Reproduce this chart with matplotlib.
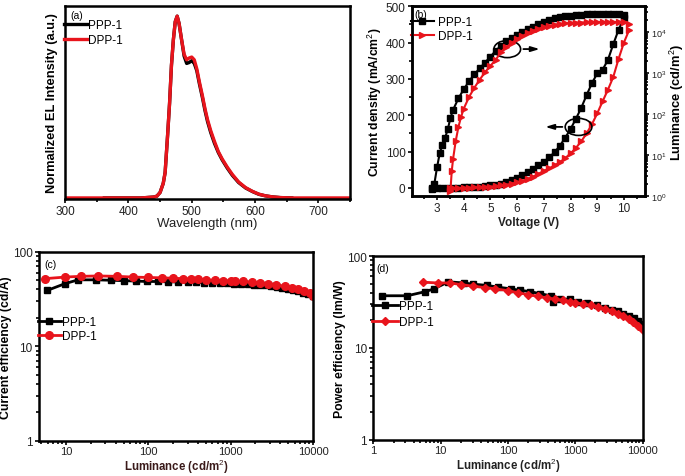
import matplotlib
matplotlib.use("Agg")
import matplotlib.pyplot as plt
from matplotlib.patches import Ellipse
from matplotlib.ticker import LogLocator, NullFormatter, MultipleLocator, FixedLocator

plt.rcParams['font.family'] = ['Liberation Sans', 'DejaVu Sans']
plt.rcParams['mathtext.fontset'] = 'custom'
plt.rcParams['mathtext.rm'] = 'Liberation Sans'
plt.rcParams['mathtext.bf'] = 'Liberation Sans:bold'

BLACK = '#000000'
RED = '#e8141c'

# ---------------- (a) EL spectra ----------------
wl_ppp = [362, 420, 440, 445, 450, 455, 458, 462, 465, 468, 471, 474, 477, 480, 484, 488, 492, 496,
          500, 504, 508, 512, 517, 521, 525, 530, 536, 542, 548, 556, 564, 574, 585, 596, 606, 616,
          627, 640, 658]
el_ppp = [0, 0, 0.005, 0.01, 0.03, 0.08, 0.14, 0.35, 0.52, 0.73, 0.87, 0.97, 1.0, 0.96, 0.87, 0.78,
          0.74, 0.745, 0.755, 0.74, 0.70, 0.63, 0.55, 0.48, 0.42, 0.36, 0.30, 0.25, 0.21, 0.165, 0.125,
          0.085, 0.055, 0.035, 0.02, 0.012, 0.006, 0.002, 0]
wl_dpp = [300, 360, 420, 440, 445, 450, 455, 458, 462, 465, 468, 471, 474, 477, 480, 484, 488, 492,
          496, 500, 504, 508, 512, 517, 521, 525, 530, 536, 542, 548, 556, 564, 574, 585, 596, 606,
          616, 627, 640, 660, 750]
el_dpp = [0, 0, 0, 0.005, 0.01, 0.03, 0.08, 0.14, 0.35, 0.52, 0.73, 0.87, 0.97, 1.0, 0.96, 0.87,
          0.79, 0.76, 0.77, 0.775, 0.76, 0.71, 0.64, 0.56, 0.49, 0.43, 0.37, 0.31, 0.255, 0.215, 0.17,
          0.13, 0.088, 0.057, 0.036, 0.021, 0.012, 0.006, 0.002, 0, 0]

# ---------------- (b) J-V-L ----------------
v_j_ppp = [2.8, 3.0, 3.2, 3.4, 3.6, 3.8, 4.0, 4.2, 4.4, 4.6, 4.8, 5.0, 5.2, 5.4, 5.6, 5.8, 6.0, 6.2,
           6.4, 6.6, 6.8, 7.0, 7.2, 7.4, 7.6, 7.8, 8.0, 8.2, 8.4, 8.6, 8.8, 9.0, 9.2, 9.4, 9.6, 9.8, 10.0]
j_ppp = [0, 0, 0, 0, 0.5, 1, 1.5, 2, 3, 4, 5, 7, 9, 12, 16, 21, 27, 35, 44, 53, 62, 72, 84, 98, 116,
         138, 162, 190, 220, 255, 288, 315, 325, 352, 395, 435, 468]
v_j_dpp = [3.5, 3.6, 3.8, 4.0, 4.2, 4.4, 4.6, 4.8, 5.0, 5.2, 5.4, 5.6, 5.8, 6.0, 6.2, 6.4, 6.6, 6.8,
           7.0, 7.2, 7.4, 7.6, 7.8, 8.0, 8.2, 8.4, 8.6, 8.8, 9.0, 9.2, 9.4, 9.6, 9.8, 10.0, 10.2]
j_dpp = [0, 0, 0, 0.5, 1, 1.5, 2, 3, 4, 5, 7, 9, 12, 16, 20, 25, 31, 39, 47, 54, 62, 71, 82, 95, 110,
         128, 150, 175, 205, 238, 270, 305, 355, 400, 435]
v_l_ppp = [2.8, 2.9, 3.0, 3.1, 3.2, 3.3, 3.4, 3.5, 3.6, 3.8, 4.0, 4.2, 4.4, 4.6, 4.8, 5.0, 5.2, 5.4,
           5.6, 5.8, 6.0, 6.2, 6.4, 6.6, 6.8, 7.0, 7.2, 7.4, 7.6, 7.8, 8.0, 8.2, 8.4, 8.6, 8.8, 9.0,
           9.2, 9.4, 9.6, 9.8, 10.0]
l_ppp = [1.5, 2.0, 5, 11, 18, 26, 42, 79, 126, 240, 400, 630, 930, 1300, 1800, 2500, 3500, 4600, 5900,
         7100, 8500, 10000, 11700, 13500, 15500, 17400, 19500, 21400, 23400, 24500, 25100, 25700,
         26300, 26900, 27500, 27500, 27500, 27500, 26900, 26900, 26300]
v_l_dpp = [3.5, 3.55, 3.6, 3.7, 3.8, 3.9, 4.0, 4.2, 4.4, 4.6, 4.8, 5.0, 5.2, 5.4, 5.6, 5.8, 6.0, 6.2,
           6.4, 6.6, 6.8, 7.0, 7.2, 7.4, 7.6, 7.8, 8.0, 8.2, 8.4, 8.6, 8.8, 9.0, 9.2, 9.4, 9.6, 9.8,
           10.0, 10.2]
l_dpp = [1.3, 4, 8, 22, 48, 85, 135, 260, 440, 690, 1050, 1500, 2100, 3300, 4300, 5400, 6800, 8000,
         9300, 10700, 12000, 13200, 14100, 15100, 15800, 16200, 16600, 17000, 17000, 17400, 17400,
         17400, 17400, 17400, 17400, 17400, 17400, 15800]

# ---------------- (c) current efficiency ----------------
lc_ppp = [5.9, 9.7, 14, 23, 35, 50, 70, 95, 130, 175, 230, 300, 380, 480, 600, 740, 900, 1100, 1330,
          1600, 1900, 2250, 2650, 3100, 3600, 4200, 4900, 5700, 6600, 7600, 8700, 10000]
ce_ppp = [39, 46, 50.5, 50.5, 50, 49.5, 49, 48.5, 48.5, 48, 48, 47.5, 47.5, 47, 47, 46.5, 46.5, 46,
          45.5, 45.5, 45, 44.5, 44, 43, 42, 41, 40, 39, 38, 37, 35.5, 34]
lc_dpp = [5.6, 9.7, 15, 24.5, 42, 65, 100, 148, 200, 260, 330, 400, 500, 640, 800, 1000, 1120, 1400,
          1820, 2300, 2830, 3500, 4550, 5500, 6600, 7800, 9100, 10000]
ce_dpp = [52, 54, 55, 55.5, 55, 54, 53.5, 53, 52.5, 52, 51.5, 51, 50.5, 50, 49.5, 49, 49, 48.5, 47.5,
          46.5, 45.5, 44.5, 43, 41.5, 40, 38.5, 36.5, 34]

# ---------------- (d) power efficiency ----------------
lp_ppp = [1.35, 3.2, 5.9, 8, 13, 22, 30, 49, 70, 110, 150, 215, 300, 430, 470, 600, 850, 1100, 1500,
          2140, 2800, 3500, 4250, 5200, 6300, 7450, 8700, 10000]
pe_ppp = [37, 37, 41, 44, 52.5, 51, 49.5, 48, 46, 44, 42.5, 41, 39, 37, 32, 34, 34, 32, 30.5, 29, 27,
          26, 25, 23.5, 22, 21, 19.5, 18.4]
lp_dpp = [5.5, 9, 14, 20, 30, 45, 65, 100, 140, 200, 280, 380, 500, 650, 850, 1000, 1300, 1700, 2200,
          2800, 3500, 4300, 5200, 6200, 7300, 8600, 10000]
pe_dpp = [52, 51, 51, 49, 47, 45.5, 44, 42, 40, 38, 36.5, 35, 34, 33, 32, 31, 30, 29, 28, 26.5, 25,
          23.5, 22, 20.5, 19, 17.5, 15.8]

labels = ['PPP-1', 'DPP-1']

fig = plt.figure(figsize=(6.85, 4.77), dpi=100)

TICKFS = 8.5


def style(ax):
    for s in ax.spines.values():
        s.set_linewidth(1.8)
    ax.tick_params(which='both', direction='out', width=1.2, labelsize=TICKFS, pad=1.5,
                   labelcolor='#222222')
    ax.tick_params(which='major', length=3)
    ax.tick_params(which='minor', length=2)


# (a)
axa = fig.add_axes([0.095, 0.581, 0.416, 0.404])
axa.plot(wl_ppp, el_ppp, color=BLACK, lw=2.4, label=labels[0])
axa.plot(wl_dpp, el_dpp, color=RED, lw=2.4, label=labels[1])
axa.set_xlim(300, 750)
axa.set_ylim(-0.005, 1.055)
axa.set_yticks([])
axa.xaxis.set_major_locator(MultipleLocator(100))
axa.xaxis.set_minor_locator(MultipleLocator(50))
style(axa)
axa.set_xlabel('Wavelength (nm)', fontsize=9.5, labelpad=0, color='#222222')
axa.set_ylabel('Normalized EL Intensity (a.u.)', fontsize=9.3, fontweight='bold', labelpad=5)
axa.text(0.02, 0.98, '(a)', transform=axa.transAxes, fontsize=7.5, va='top', ha='left')
axa.legend(loc='upper left', bbox_to_anchor=(-0.005, 0.935), frameon=False, fontsize=8.5,
           handlelength=2.0, handletextpad=0.1, labelspacing=0.3, borderpad=0, borderaxespad=0)

# (b)
axb = fig.add_axes([0.601, 0.587, 0.341, 0.398])
axb2 = axb.twinx()
axb.plot(v_j_ppp, j_ppp, color=BLACK, lw=1.5, marker='s', ms=4, label=labels[0])
axb.plot(v_j_dpp, j_dpp, color=RED, lw=1.5, marker='>', ms=5, label=labels[1])
axb2.plot(v_l_ppp, l_ppp, color=BLACK, lw=1.5, marker='s', ms=4)
axb2.plot(v_l_dpp, l_dpp, color=RED, lw=1.5, marker='>', ms=5)
axb.set_xlim(2.05, 10.8)
axb.set_ylim(-22, 500)
axb2.set_yscale('log')
axb2.set_ylim(1, 10 ** 4.63)
axb.xaxis.set_major_locator(MultipleLocator(1))
axb.xaxis.set_minor_locator(MultipleLocator(0.5))
axb.yaxis.set_major_locator(MultipleLocator(100))
axb.yaxis.set_minor_locator(MultipleLocator(50))
axb2.yaxis.set_major_locator(LogLocator(base=10, numticks=10))
axb2.yaxis.set_minor_locator(LogLocator(base=10, subs=range(2, 10), numticks=10))
axb2.yaxis.set_minor_formatter(NullFormatter())
style(axb)
style(axb2)
axb2.tick_params(labelsize=6.5, pad=1)
axb.set_xlabel('Voltage (V)', fontsize=8.5, fontweight='bold', labelpad=1, color='#222222')
axb.set_ylabel('Current density (mA/cm$^2$)', fontsize=8.8, fontweight='bold', labelpad=1)
axb2.set_ylabel('Luminance (cd/m$^2$)', fontsize=9.3, fontweight='bold', labelpad=1)
axb.text(0.01, 0.985, '(b)', transform=axb.transAxes, fontsize=7.5, va='top', ha='left')
axb.legend(loc='upper left', bbox_to_anchor=(-0.005, 0.95), frameon=False, fontsize=8.5,
           handlelength=2.0, handletextpad=0.3, labelspacing=0.2, borderpad=0, borderaxespad=0)
# circles and arrows
axb.add_patch(Ellipse((5.63, 382), 1.0, 47, fill=False, ec=BLACK, lw=1.2, zorder=5))
axb.add_patch(Ellipse((8.3, 168), 1.0, 47, fill=False, ec=BLACK, lw=1.2, zorder=5))
axb.annotate('', xy=(6.95, 382), xytext=(6.13, 382),
             arrowprops=dict(arrowstyle='-|>,head_length=0.5,head_width=0.15', color=BLACK, lw=1.3))
axb.annotate('', xy=(6.95, 168), xytext=(7.8, 168),
             arrowprops=dict(arrowstyle='-|>,head_length=0.5,head_width=0.15', color=BLACK, lw=1.3))

# (c)
axc = fig.add_axes([0.057, 0.074, 0.400, 0.396])
axc.plot(lc_ppp, ce_ppp, color=BLACK, lw=2, marker='s', ms=5, label=labels[0])
axc.plot(lc_dpp, ce_dpp, color=RED, lw=2, marker='o', ms=5.5, label=labels[1])
axc.set_xscale('log')
axc.set_yscale('log')
axc.set_xlim(4.7, 10000)
axc.set_ylim(1, 100)
axc.xaxis.set_major_locator(FixedLocator([10, 100, 1000, 10000]))
axc.set_xticklabels(['10', '100', '1000', '10000'])
axc.yaxis.set_major_locator(FixedLocator([1, 10, 100]))
axc.set_yticklabels(['1', '10', '100'])
axc.xaxis.set_minor_locator(LogLocator(base=10, subs=range(2, 10), numticks=10))
axc.yaxis.set_minor_locator(LogLocator(base=10, subs=range(2, 10), numticks=10))
axc.xaxis.set_minor_formatter(NullFormatter())
axc.yaxis.set_minor_formatter(NullFormatter())
style(axc)
axc.tick_params(axis='x', labelsize=8, pad=1)
axc.set_xlabel('Luminance (cd/m$^2$)', fontsize=8.3, fontweight='bold', color='#3a1a1a')
axc.xaxis.set_label_coords(0.5, -0.087)
axc.set_ylabel('Current efficiency (cd/A)', fontsize=8.8, fontweight='bold', labelpad=1)
axc.text(0.02, 0.96, '(c)', transform=axc.transAxes, fontsize=7.5, va='top', ha='left')
axc.legend(loc='upper left', bbox_to_anchor=(-0.005, 0.66), frameon=False, fontsize=8.5,
           handlelength=2.0, handletextpad=0.1, labelspacing=0.15, borderpad=0, borderaxespad=0)

# (d)
axd = fig.add_axes([0.545, 0.076, 0.393, 0.385])
axd.plot(lp_ppp, pe_ppp, color=BLACK, lw=2, marker='s', ms=5, label=labels[0])
axd.plot(lp_dpp, pe_dpp, color=RED, lw=2, marker='D', ms=4.5, label=labels[1])
axd.set_xscale('log')
axd.set_yscale('log')
axd.set_xlim(1, 10000)
axd.set_ylim(1, 100)
axd.xaxis.set_major_locator(FixedLocator([1, 10, 100, 1000, 10000]))
axd.set_xticklabels(['1', '10', '100', '1000', '10000'])
axd.yaxis.set_major_locator(FixedLocator([1, 10, 100]))
axd.set_yticklabels(['1', '10', '100'])
axd.xaxis.set_minor_locator(LogLocator(base=10, subs=range(2, 10), numticks=10))
axd.yaxis.set_minor_locator(LogLocator(base=10, subs=range(2, 10), numticks=10))
axd.xaxis.set_minor_formatter(NullFormatter())
axd.yaxis.set_minor_formatter(NullFormatter())
style(axd)
axd.tick_params(axis='x', labelsize=8, pad=1)
axd.set_xlabel('Luminance (cd/m$^2$)', fontsize=8.3, fontweight='bold', color='#222222')
axd.xaxis.set_label_coords(0.5, -0.09)
axd.set_ylabel('Power efficiency (lm/W)', fontsize=8.8, fontweight='bold', labelpad=1)
axd.text(0.01, 0.96, '(d)', transform=axd.transAxes, fontsize=7.5, va='top', ha='left')
axd.legend(loc='upper left', bbox_to_anchor=(-0.005, 0.76), frameon=False, fontsize=8.5,
           handlelength=2.2, handletextpad=0.1, labelspacing=0.3, borderpad=0, borderaxespad=0)

fig.savefig('out.png', dpi=100)
